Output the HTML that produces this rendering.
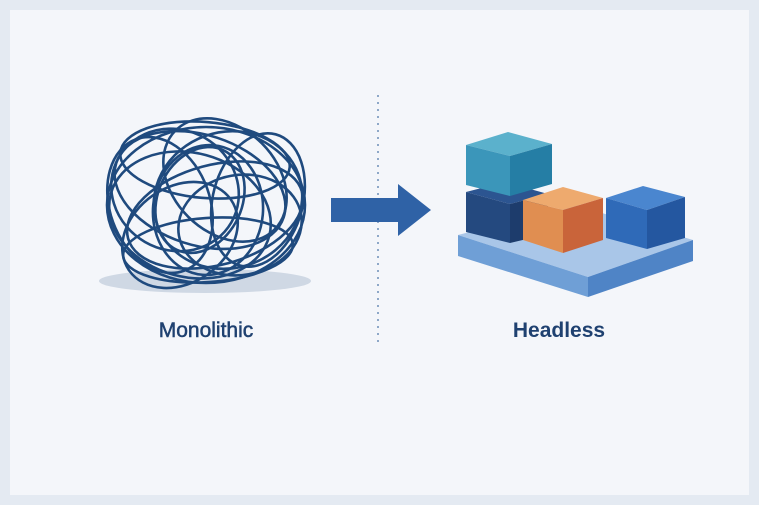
<!DOCTYPE html>
<html><head><meta charset="utf-8"><style>
html,body{margin:0;padding:0;background:#e4eaf2;}
svg{display:block}
</style></head><body>
<svg width="759" height="505" viewBox="0 0 759 505" xmlns="http://www.w3.org/2000/svg">
<rect x="0" y="0" width="759" height="505" fill="#e4eaf2"/>
<rect x="10" y="10" width="739" height="485" fill="#f4f6fa"/>
<ellipse cx="205" cy="281" rx="106" ry="12" fill="#cfd8e4"/>
<g fill="none" stroke="#1f4a7e" stroke-width="2.6">
<ellipse cx="206" cy="205" rx="99" ry="78"/>
<ellipse cx="190" cy="215" rx="82" ry="62" transform="rotate(15 190 215)"/>
<ellipse cx="228" cy="200" rx="75" ry="68" transform="rotate(-20 228 200)"/>
<ellipse cx="175" cy="190" rx="65" ry="60" transform="rotate(30 175 190)"/>
<ellipse cx="240" cy="225" rx="62" ry="50" transform="rotate(-10 240 225)"/>
<ellipse cx="225" cy="180" rx="70" ry="52" transform="rotate(45 225 180)"/>
<ellipse cx="180" cy="235" rx="62" ry="48" transform="rotate(-35 180 235)"/>
<ellipse cx="208" cy="210" rx="55" ry="65" transform="rotate(5 208 210)"/>
<ellipse cx="160" cy="205" rx="50" ry="70" transform="rotate(-20 160 205)"/>
<ellipse cx="258" cy="200" rx="45" ry="68" transform="rotate(15 258 200)"/>
<ellipse cx="205" cy="160" rx="85" ry="38" transform="rotate(5 205 160)"/>
<ellipse cx="208" cy="250" rx="85" ry="32" transform="rotate(-4 208 250)"/>
<ellipse cx="200" cy="200" rx="42" ry="55" transform="rotate(25 200 200)"/>
<ellipse cx="215" cy="215" rx="90" ry="50" transform="rotate(-15 215 215)"/>
<ellipse cx="200" cy="190" rx="88" ry="55" transform="rotate(18 200 190)"/>
</g>
<line x1="378" y1="95" x2="378" y2="345" stroke="#8ea8c8" stroke-width="2" stroke-dasharray="2 5"/>
<polygon points="331,198 398,198 398,184 431,210 398,236 398,222 331,222" fill="#2f62a6"/>
<polygon points="458,235 575,205 693,240 588,277" fill="#a9c6e8"/>
<polygon points="458,235 588,277 588,297 458,256" fill="#6f9fd6"/>
<polygon points="588,277 693,240 693,261 588,297" fill="#4f84c6"/>
<polygon points="466,192 505,182 548,194 510,204" fill="#2c5591"/>
<polygon points="466,192 510,204 510,243 466,232" fill="#24497f"/>
<polygon points="510,204 548,194 548,234 510,243" fill="#1d3c6c"/>
<polygon points="466,145 508,132 552,144 510,156" fill="#5bb1cc"/>
<polygon points="466,145 510,156 510,196 466,185" fill="#3b96ba"/>
<polygon points="510,156 552,144 552,184 510,196" fill="#257ea5"/>
<polygon points="523,200 563,187 603,198 563,210" fill="#eeaa6e"/>
<polygon points="523,200 563,210 563,253 523,240" fill="#e08e51"/>
<polygon points="563,210 603,198 603,240 563,253" fill="#c9643a"/>
<polygon points="606,198 643,186 685,197 647,210" fill="#4a86cf"/>
<polygon points="606,198 647,210 647,249 606,238" fill="#2f6ab8"/>
<polygon points="647,210 685,197 685,238 647,249" fill="#2457a0"/>
<text x="206" y="337" text-anchor="middle" font-family="Liberation Sans, sans-serif" font-size="21" fill="#1f4170" stroke="#1f4170" stroke-width="0.5">Monolithic</text>
<text x="559" y="337" text-anchor="middle" font-family="Liberation Sans, sans-serif" font-size="21" font-weight="bold" fill="#1f4170">Headless</text>
</svg>
</body></html>
